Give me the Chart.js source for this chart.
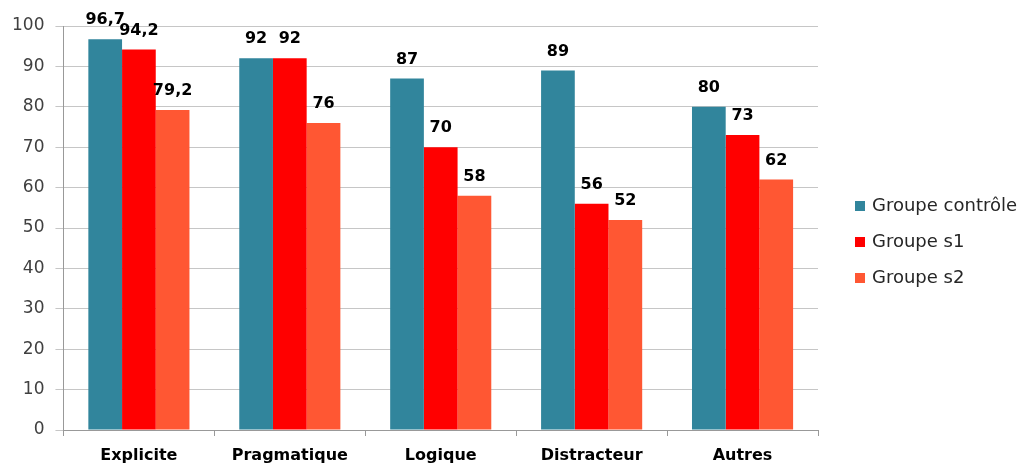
<!DOCTYPE html>
<html>
<head>
<meta charset="utf-8">
<script src="https://cdn.jsdelivr.net/npm/chart.js@4/dist/chart.umd.min.js"></script>
<style>
  html, body { margin: 0; padding: 0; background: #fff; }
  #wrap { width: 1022px; height: 466px; }
</style>
</head>
<body>
<div id="wrap"><canvas id="chart"></canvas></div>
<script>
const categories = ['Explicite', 'Pragmatique', 'Logique', 'Distracteur', 'Autres'];
const controle = [96.7, 92, 87, 89, 80];
const groupeS1 = [94.2, 92, 70, 56, 73];
const groupeS2 = [79.2, 76, 58, 52, 62];
const seriesNames = ['Groupe contrôle', 'Groupe s1', 'Groupe s2'];
const colors = ['#31859C', '#FF0000', '#FF5733'];

const FONT = '"DejaVu Sans", sans-serif';

// value labels over each bar, decimal comma like the original
const barLabels = {
  id: 'barLabels',
  afterDatasetsDraw(chart) {
    const {ctx} = chart;
    ctx.save();
    ctx.font = 'bold 16px ' + FONT;
    ctx.fillStyle = '#000';
    ctx.textAlign = 'center';
    ctx.textBaseline = 'middle';
    chart.data.datasets.forEach((ds, i) => {
      chart.getDatasetMeta(i).data.forEach((bar, j) => {
        const txt = String(ds.data[j]).replace('.', ',');
        ctx.fillText(txt, bar.x, bar.y - 19);
      });
    });
    ctx.restore();
  },
};

// legend drawn by hand: the built-in one can't leave this much room to the plot
const sideLegend = {
  id: 'sideLegend',
  afterDraw(chart) {
    const {ctx, chartArea} = chart;
    const x = chartArea.right + 37;
    const midY = chart.height / 2 + 9;
    ctx.save();
    ctx.font = '18px ' + FONT;
    ctx.textBaseline = 'middle';
    ctx.textAlign = 'left';
    chart.data.datasets.forEach((ds, i) => {
      const y = midY + (i - 1) * 36;
      ctx.fillStyle = ds.backgroundColor;
      ctx.fillRect(x, y - 5, 10, 10);
      ctx.fillStyle = '#262626';
      ctx.fillText(ds.label, x + 17, y);
    });
    ctx.restore();
  },
};

new Chart(document.getElementById('chart'), {
  type: 'bar',
  data: {
    labels: categories,
    datasets: [controle, groupeS1, groupeS2].map((values, i) => ({
      label: seriesNames[i],
      data: values,
      backgroundColor: colors[i],
      borderWidth: 0,
      categoryPercentage: 0.67,
      barPercentage: 1,
    })),
  },
  options: {
    responsive: true,
    maintainAspectRatio: false,
    animation: false,
    layout: {padding: {left: 1, right: 204, top: 26, bottom: 0}},
    plugins: {
      legend: {display: false},
      tooltip: {enabled: false},
    },
    scales: {
      x: {
        afterFit: (scale) => { scale.height = 36; },
        grid: {drawOnChartArea: false, drawTicks: true, tickLength: 6, color: '#999'},
        border: {color: '#999'},
        ticks: {color: '#000', font: {size: 16, weight: 'bold', family: FONT}, padding: 10},
      },
      y: {
        min: 0,
        max: 100,
        ticks: {stepSize: 10, color: '#404040', font: {size: 17, family: FONT}, padding: 11},
        grid: {color: '#c6c6c6', tickLength: 8},
        border: {color: '#999'},
      },
    },
  },
  plugins: [barLabels, sideLegend],
});
</script>
</body>
</html>
